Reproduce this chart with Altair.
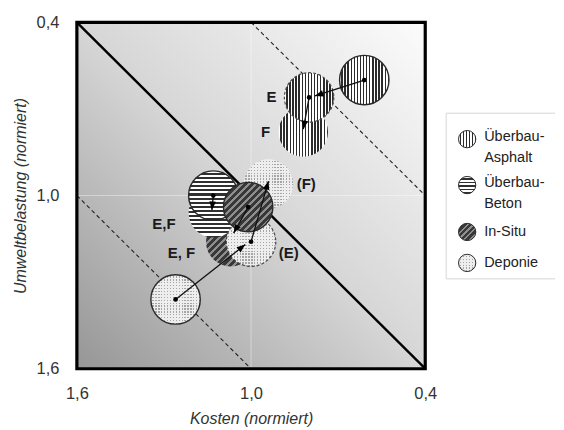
import math
import altair as alt
import pandas as pd

# ---------------- data ----------------
# circles (drawn back -> front): cost (x), environmental load (y)
circle_name = ["Deponie F", "In-Situ E,F", "Beton E,F", "Deponie E", "Beton",
               "In-Situ", "Deponie", "Asphalt F", "Asphalt E", "Asphalt"]
circle_cost = [0.94, 1.07, 1.13, 1.00, 1.13, 1.01, 1.26, 0.82, 0.80, 0.61]
circle_env = [0.96, 1.16, 1.06, 1.16, 1.00, 1.04, 1.36, 0.78, 0.66, 0.60]
circle_pattern = ["dots", "hatch", "hstripes", "dots", "hstripes",
                  "hatch", "dots", "vstripes", "vstripes", "vstripes"]
circle_outline = ["none", "none", "none", "dashed", "solid",
                  "solid", "solid", "none", "dashed", "solid"]

# arrows: start -> tip
arrow_x1 = [0.61, 0.80, 1.26, 1.00, 1.13, 1.01]
arrow_y1 = [0.60, 0.66, 1.36, 1.16, 1.00, 1.04]
arrow_x2 = [0.78, 0.82, 1.02, 0.94, 1.135, 1.06]
arrow_y2 = [0.655, 0.77, 1.17, 0.95, 1.05, 1.13]

# scenario labels
label_text = ["E", "F", "(F)", "E,F", "E, F", "(E)"]
label_x = [0.93, 0.95, 0.81, 1.30, 1.24, 0.87]
label_y = [0.66, 0.78, 0.96, 1.10, 1.20, 1.20]

# iso-lines (cost + env = const)
line_x1 = [1.6, 1.0, 1.6]
line_y1 = [0.4, 0.4, 1.0]
line_x2 = [0.4, 0.4, 1.0]
line_y2 = [1.6, 1.0, 1.6]
line_dashed = [False, True, True]

ticks = [1.6, 1.0, 0.4]
grid_vals = [1.0]
domain = [0.4, 1.6]

legend_lines = [["Überbau-", "Asphalt"], ["Überbau-", "Beton"], ["In-Situ"], ["Deponie"]]
legend_pattern = ["vstripes", "hstripes", "hatch", "dots"]

# ---------------- layout / style ----------------
W, H = 349, 347
D0, D1 = domain
FONT = "Liberation Sans"


def px(x):
    return (D1 - x) / (D1 - D0) * W


def py(y):
    return (y - D0) / (D1 - D0) * H


def stripes(n, c_a, c_b, frac, x1, y1, x2, y2):
    stops = []
    for i in range(n):
        a, b, c = i / n, (i + frac) / n, (i + 1) / n
        stops += [{"offset": round(a, 4), "color": c_a}, {"offset": round(b, 4), "color": c_a},
                  {"offset": round(b, 4), "color": c_b}, {"offset": round(c, 4), "color": c_b}]
    return {"gradient": "linear", "x1": x1, "y1": y1, "x2": x2, "y2": y2, "stops": stops}


CLEAR = "rgba(0,0,0,0)"
big_fill = {
    "vstripes": stripes(16, "#ffffff", "#2b2b2b", 0.55, 0, 0, 1, 0),
    "hstripes": stripes(12, "#ffffff", "#303030", 0.5, 0, 0, 0, 1),
    "hatch": stripes(14, "#383838", "#8e8e8e", 0.6, 0, 0, 1, 1),
    "dots": stripes(17, "#eeeeee", "#a5a5a5", 0.55, 0, 0, 0, 1),
}
big_mask = stripes(17, "#eeeeee", CLEAR, 0.55, 0, 0, 1, 0)
small_fill = {
    "vstripes": stripes(6, "#ffffff", "#2b2b2b", 0.55, 0, 0, 1, 0),
    "hstripes": stripes(5, "#ffffff", "#303030", 0.5, 0, 0, 0, 1),
    "hatch": stripes(6, "#383838", "#8e8e8e", 0.6, 0, 0, 1, 1),
    "dots": stripes(6, "#eeeeee", "#a5a5a5", 0.55, 0, 0, 0, 1),
}
small_mask = stripes(6, "#eeeeee", CLEAR, 0.55, 0, 0, 1, 0)

XS = alt.Scale(domain=domain, reverse=True, nice=False, zero=False)
YS = alt.Scale(domain=domain, reverse=True, nice=False, zero=False)
lab = "replace(format(datum.value, '.1f'), '.', ',')"
XAX = alt.Axis(values=ticks, title="Kosten (normiert)", labelExpr=lab, grid=False, domain=False,
               ticks=False, tickSize=0, labelPadding=17, titlePadding=8, labelFlush=False)
YAX = alt.Axis(values=ticks, title="Umweltbelastung (normiert)", labelExpr=lab, grid=False, domain=False,
               ticks=False, tickSize=0, labelPadding=18, titlePadding=8, labelFlush=False)


def X(f):
    return alt.X(f, type="quantitative", scale=XS, axis=XAX)


def Y(f):
    return alt.Y(f, type="quantitative", scale=YS, axis=YAX)


layers = []

# background gradient
bg = pd.DataFrame({"x": [domain[1]], "x2": [domain[0]], "y": [domain[0]], "y2": [domain[1]]})
layers.append(alt.Chart(bg).mark_rect(
    fill={"gradient": "linear", "x1": 0, "y1": 1, "x2": 1, "y2": 0,
          "stops": [{"offset": 0, "color": "#969696"}, {"offset": 0.5, "color": "#d6d6d6"},
                    {"offset": 1, "color": "#fcfcfc"}]}
).encode(x=X("x"), x2="x2", y=Y("y"), y2="y2"))

# faint grid lines at 1.0
gv = pd.DataFrame({"x": grid_vals, "y": [domain[0]] * len(grid_vals), "y2": [domain[1]] * len(grid_vals)})
gh = pd.DataFrame({"y": grid_vals, "x": [domain[1]] * len(grid_vals), "x2": [domain[0]] * len(grid_vals)})
layers.append(alt.Chart(gv).mark_rule(color="#ffffff", opacity=0.4, strokeWidth=1).encode(x=X("x"), y=Y("y"), y2="y2"))
layers.append(alt.Chart(gh).mark_rule(color="#ffffff", opacity=0.4, strokeWidth=1).encode(y=Y("y"), x=X("x"), x2="x2"))

# iso-lines
ldf = pd.DataFrame({"x": line_x1, "y": line_y1, "x2": line_x2, "y2": line_y2, "d": line_dashed})
layers.append(alt.Chart(ldf[~ldf.d]).mark_rule(color="#000000", strokeWidth=2.4).encode(
    x=X("x"), y=Y("y"), x2="x2", y2="y2"))
layers.append(alt.Chart(ldf[ldf.d]).mark_rule(color="#222222", strokeWidth=1.1, strokeDash=[4, 3]).encode(
    x=X("x"), y=Y("y"), x2="x2", y2="y2"))


def outline_props(kind):
    if kind == "solid":
        return dict(stroke="#2a2a2a", strokeWidth=1.4)
    if kind == "dashed":
        return dict(stroke="#4a4a4a", strokeWidth=1.2, strokeDash=[3, 2])
    return dict(strokeWidth=0)


# circles
for i in range(len(circle_name)):
    df = pd.DataFrame({"x": [circle_cost[i]], "y": [circle_env[i]], "name": [circle_name[i]]})
    pat = circle_pattern[i]
    if pat == "dots":
        layers.append(alt.Chart(df).mark_point(shape="circle", filled=True, size=2450, fill=big_fill[pat],
                                               opacity=1, strokeWidth=0).encode(x=X("x"), y=Y("y")))
        props = dict(shape="circle", filled=True, size=2450, fill=big_mask, opacity=1)
    else:
        props = dict(shape="circle", filled=True, size=2450, fill=big_fill[pat], opacity=1)
    props.update(outline_props(circle_outline[i]))
    layers.append(alt.Chart(df).mark_point(**props).encode(x=X("x"), y=Y("y")))

# arrows
head_path = "M0,-1L-0.7,0.8L0.7,0.8Z"
head_size = 90
back = math.sqrt(head_size) / 2
rows = []
for x1, y1, x2, y2 in zip(arrow_x1, arrow_y1, arrow_x2, arrow_y2):
    dx, dy = px(x2) - px(x1), py(y2) - py(y1)
    L = math.hypot(dx, dy)
    ux, uy = dx / L, dy / L
    hpx, hpy = px(x2) - ux * back, py(y2) - uy * back
    rows.append({"x": x1, "y": y1, "x2": x2, "y2": y2,
                 "hx": D1 - hpx * (D1 - D0) / W, "hy": D0 + hpy * (D1 - D0) / H,
                 "ang": (math.degrees(math.atan2(ux, -uy)) + 360) % 360})
adf = pd.DataFrame(rows)
layers.append(alt.Chart(adf).mark_rule(color="#111111", strokeWidth=1.3).encode(
    x=X("x"), y=Y("y"), x2="x2", y2="y2"))
layers.append(alt.Chart(adf).mark_point(shape=head_path, filled=True, color="#000000", size=head_size,
                                        opacity=1).encode(
    x=X("hx"), y=Y("hy"), angle=alt.Angle("ang:Q", scale=None)))
# start dots
layers.append(alt.Chart(adf).mark_point(shape="circle", filled=True, color="#000000", size=22,
                                        opacity=1).encode(x=X("x"), y=Y("y")))

# scenario labels
tdf = pd.DataFrame({"x": label_x, "y": label_y, "t": label_text})
layers.append(alt.Chart(tdf).mark_text(font=FONT, fontSize=15, fontWeight="bold", color="#1a1a1a",
                                       align="center", baseline="middle").encode(
    x=X("x"), y=Y("y"), text="t:N"))

# plot frame
layers.append(alt.Chart(bg).mark_rect(fillOpacity=0, stroke="#000000", strokeWidth=3.2).encode(
    x=X("x"), x2="x2", y=Y("y"), y2="y2"))

# legend (manual, placed right of the plot)
LX0, LX1, LY0, LY1 = 370, 479, 91, 257
row_y = [115, 161, 210, 241]
one = pd.DataFrame({"a": [0]})
layers.append(alt.Chart(one).mark_rect(fill="#ffffff").encode(
    x=alt.value(LX0), x2=alt.value(LX1), y=alt.value(LY0), y2=alt.value(LY1)))
for yy in (LY0, LY1):
    layers.append(alt.Chart(one).mark_rule(color="#d6d6d6", strokeWidth=1).encode(
        x=alt.value(LX0), x2=alt.value(LX1), y=alt.value(yy)))
layers.append(alt.Chart(one).mark_rule(color="#d6d6d6", strokeWidth=1).encode(
    x=alt.value(LX0), y=alt.value(LY0), y2=alt.value(LY1)))
for k, (lines, pat) in enumerate(zip(legend_lines, legend_pattern)):
    sy = row_y[k] + (2 if len(lines) > 1 else 0)
    if pat == "dots":
        layers.append(alt.Chart(one).mark_point(shape="circle", filled=True, size=300, fill=small_fill[pat],
                                                strokeWidth=0, opacity=1).encode(
            x=alt.value(391), y=alt.value(sy)))
        f = small_mask
    else:
        f = small_fill[pat]
    layers.append(alt.Chart(one).mark_point(
        shape="circle", filled=True, size=300, fill=f, stroke="#2a2a2a", strokeWidth=1,
        opacity=1).encode(x=alt.value(391), y=alt.value(sy)))
    for j, line in enumerate(lines):
        layers.append(alt.Chart(pd.DataFrame({"t": [line]})).mark_text(
            font=FONT, fontSize=14.5, color="#222222", align="left", baseline="middle").encode(
            x=alt.value(408), y=alt.value(row_y[k] + j * 20.5), text="t:N"))

chart = alt.layer(*layers).properties(
    width=W, height=H, padding={"left": 4, "top": 6, "right": 0, "bottom": 0}, background="#ffffff"
).configure_view(stroke=None).configure_axis(
    labelFont=FONT, labelFontSize=16.5, labelColor="#333333",
    titleFont=FONT, titleFontSize=16, titleFontStyle="italic", titleFontWeight="normal", titleColor="#333333"
)

chart.save("out.html", embed_options={"renderer": "svg", "actions": False})
